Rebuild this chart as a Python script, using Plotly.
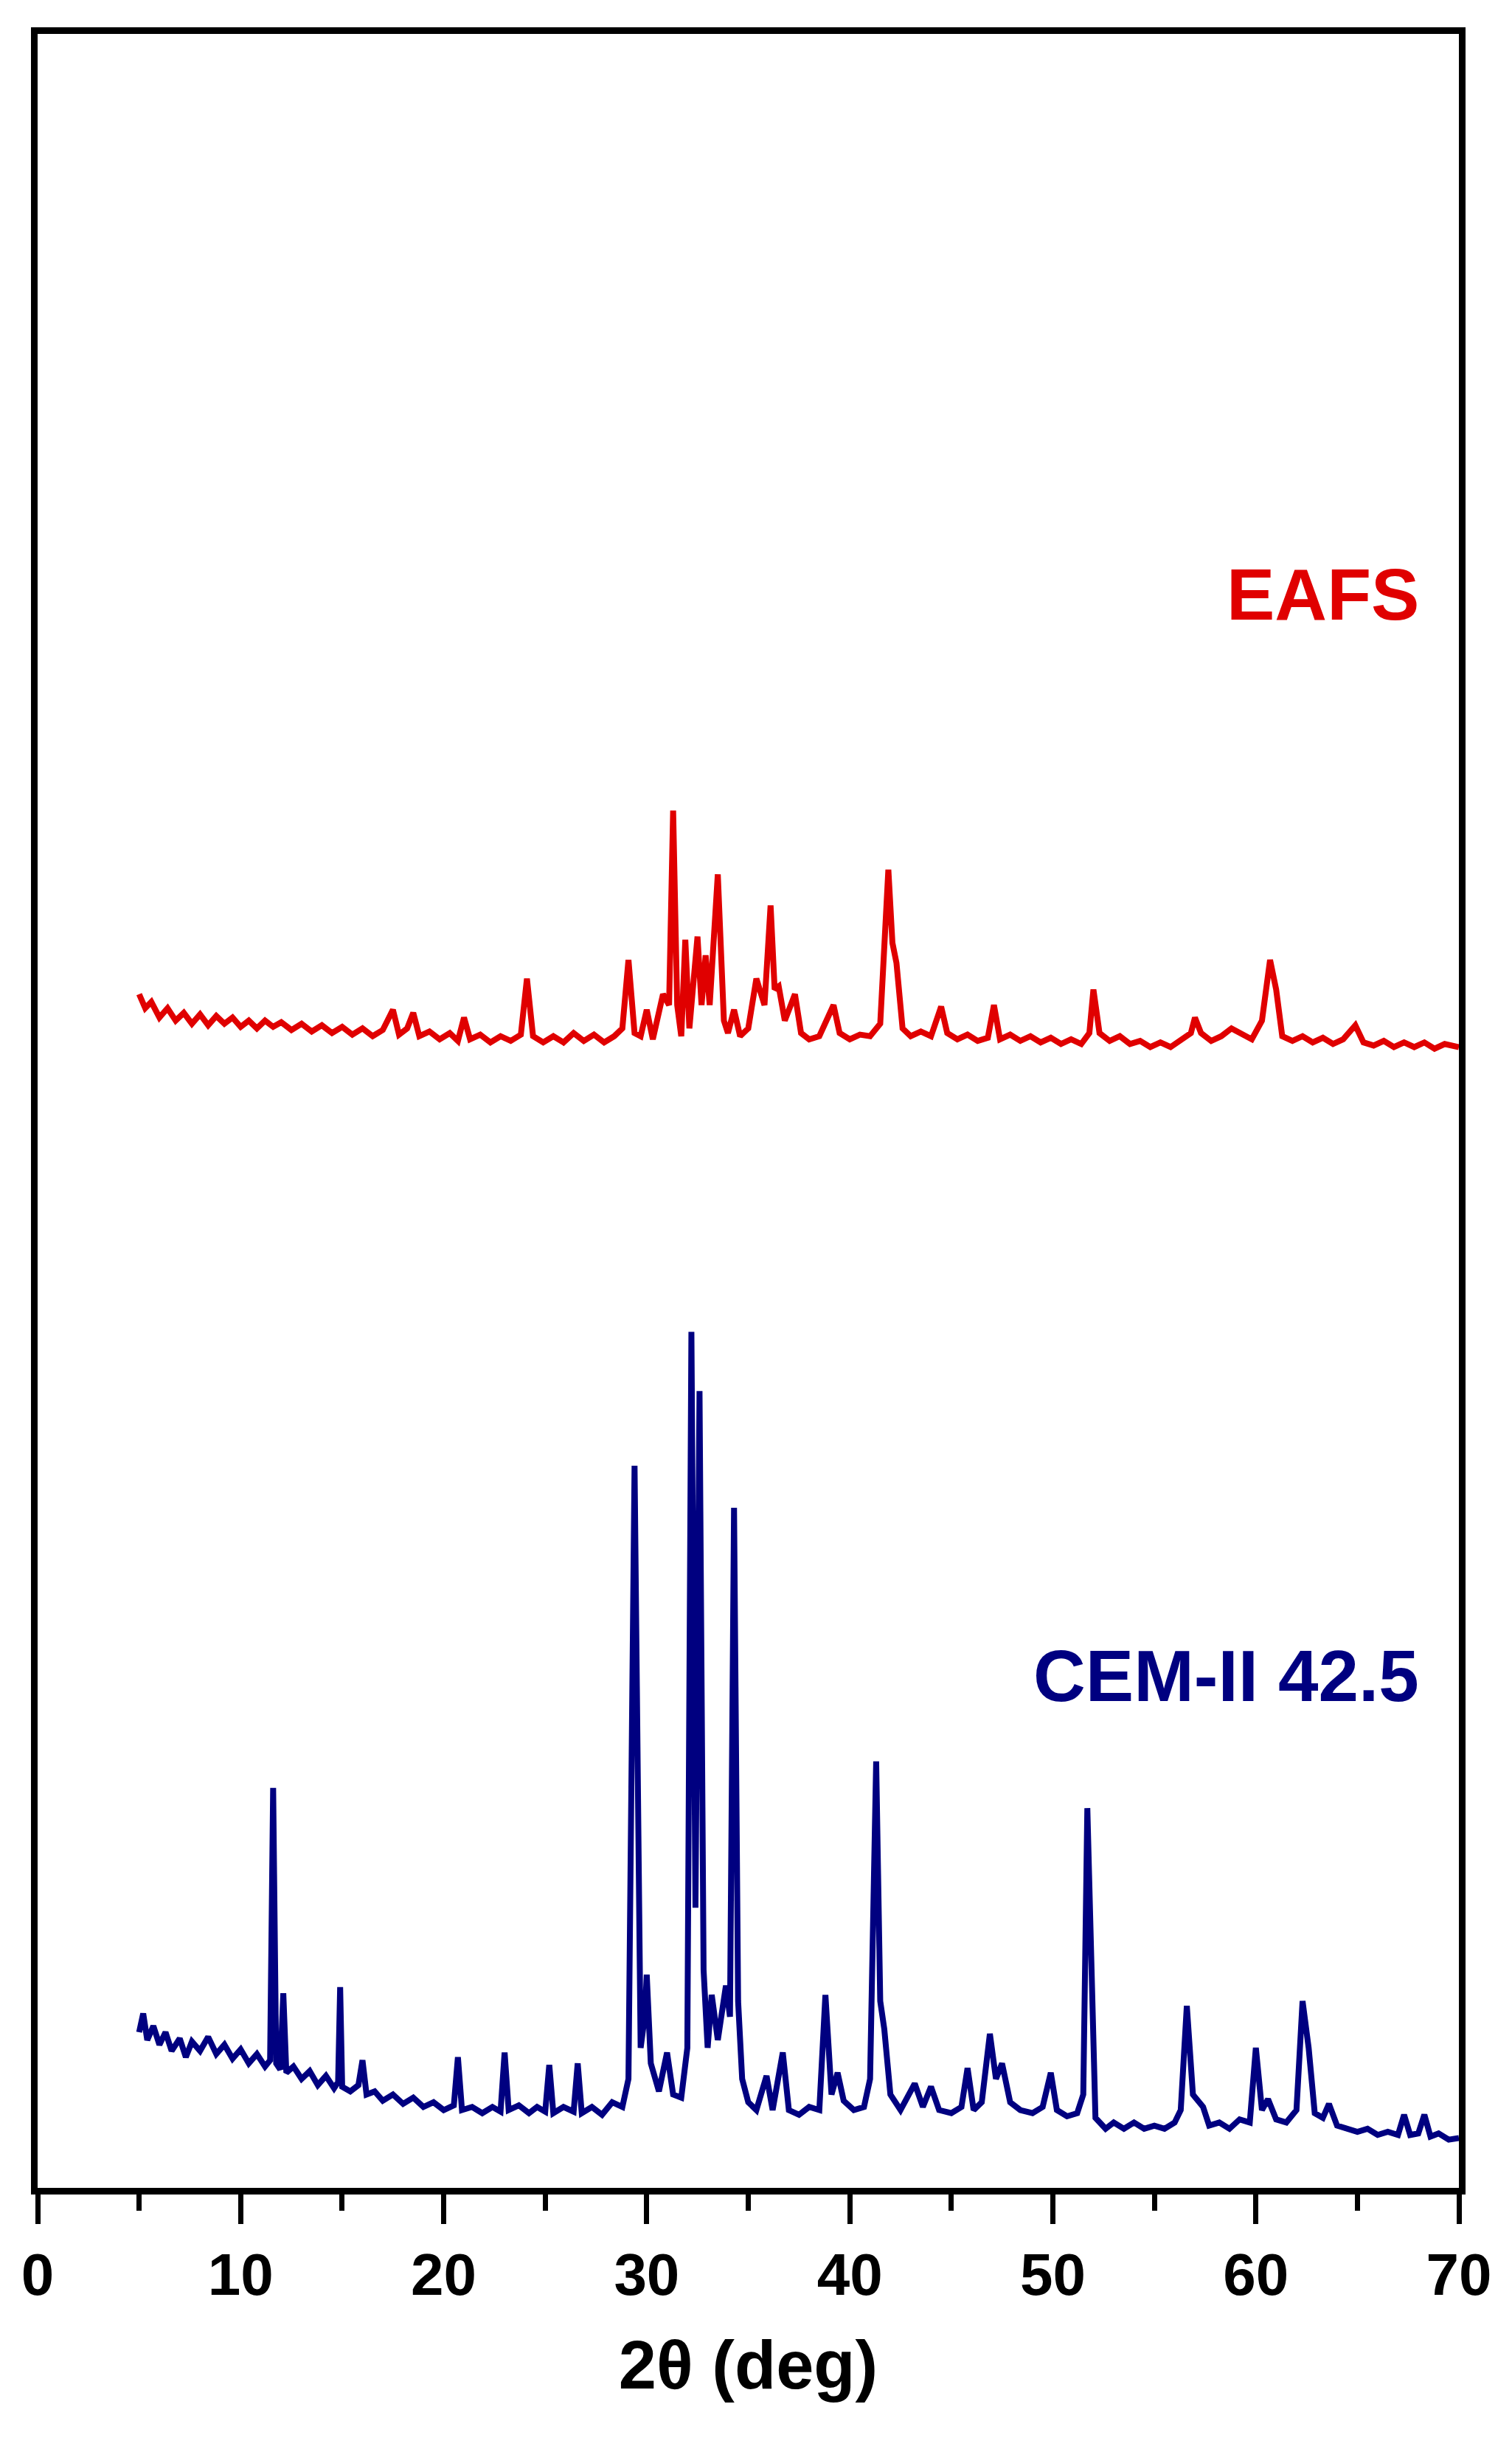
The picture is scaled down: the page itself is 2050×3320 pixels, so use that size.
import plotly.graph_objects as go

cem_x = [5.0,5.2,5.4,5.7,6.0,6.3,6.6,7.0,7.3,7.6,8.0,8.4,8.8,9.2,9.6,10.0,10.4,10.8,11.2,11.45,11.6,11.75,11.95,12.1,12.25,12.6,13.0,13.4,13.8,14.2,14.6,14.8,14.9,15.0,15.4,15.8,16.0,16.2,16.6,17.0,17.5,18.0,18.5,19.0,19.5,20.0,20.5,20.7,20.9,21.4,21.9,22.4,22.8,23.0,23.2,23.7,24.2,24.6,25.0,25.2,25.4,25.9,26.4,26.6,26.8,27.3,27.8,28.3,28.8,29.1,29.4,29.7,29.9,30.0,30.2,30.6,31.0,31.3,31.7,32.0,32.2,32.4,32.6,32.8,33.0,33.2,33.5,33.9,34.1,34.3,34.5,34.7,35.0,35.4,35.9,36.2,36.7,37.0,37.5,38.0,38.5,38.8,39.1,39.4,39.7,40.2,40.7,41.0,41.3,41.5,41.7,42.0,42.5,43.2,43.6,44.0,44.4,45.0,45.5,45.8,46.1,46.5,46.9,47.2,47.5,47.9,48.4,49.0,49.5,49.9,50.2,50.7,51.2,51.5,51.7,51.9,52.1,52.6,53.0,53.5,54.0,54.5,55.0,55.5,56.0,56.3,56.6,56.9,57.4,57.7,58.2,58.7,59.2,59.7,60.0,60.3,60.6,61.0,61.5,62.0,62.3,62.6,62.9,63.3,63.6,64.0,64.5,65.0,65.5,66.0,66.5,67.0,67.3,67.6,68.0,68.3,68.6,69.0,69.5,70.0]
cem_y = [100,112,95,104,92,100,88,96,84,94,88,97,86,92,83,89,80,86,78,82,257,80,76,125,74,78,70,75,66,72,64,68,129,65,62,66,82,60,62,56,60,54,58,52,55,50,53,84,50,52,48,52,49,87,50,53,48,52,49,79,48,52,49,80,48,52,47,55,52,70,464,90,110,137,80,62,87,60,58,90,550,180,512,140,90,124,95,130,110,437,120,70,55,50,72,50,87,50,47,52,50,124,60,74,56,50,52,70,274,120,102,60,50,67,52,65,50,48,52,77,50,55,99,70,80,55,50,48,52,74,50,46,48,60,244,150,45,38,42,38,42,38,40,38,42,50,117,60,52,40,42,38,44,42,90,50,57,44,42,50,120,90,48,45,54,40,38,36,38,34,36,34,47,34,35,47,33,35,31,32]

eafs_x = [5.0,5.3,5.6,6.0,6.4,6.8,7.2,7.6,8.0,8.4,8.8,9.2,9.6,10.0,10.4,10.8,11.2,11.6,12.0,12.5,13.0,13.5,14.0,14.5,15.0,15.5,16.0,16.5,17.0,17.5,17.8,18.2,18.5,18.8,19.3,19.8,20.3,20.7,21.0,21.3,21.8,22.3,22.8,23.3,23.8,24.1,24.4,24.9,25.4,25.9,26.4,26.9,27.4,27.9,28.4,28.8,29.1,29.4,29.7,30.0,30.3,30.8,31.1,31.3,31.5,31.7,31.9,32.1,32.5,32.7,32.9,33.1,33.5,33.8,34.0,34.3,34.6,35.0,35.4,35.8,36.1,36.3,36.5,36.8,37.3,37.6,38.0,38.5,39.2,39.5,40.0,40.5,41.0,41.5,41.9,42.1,42.3,42.6,43.0,43.5,44.0,44.5,44.8,45.3,45.8,46.3,46.8,47.1,47.4,47.9,48.4,48.9,49.4,49.9,50.4,50.9,51.4,51.8,52.0,52.3,52.8,53.3,53.8,54.3,54.8,55.3,55.8,56.3,56.8,57.0,57.3,57.8,58.3,58.8,59.3,59.8,60.3,60.7,61.0,61.3,61.8,62.3,62.8,63.3,63.8,64.3,64.9,65.3,65.8,66.3,66.8,67.3,67.8,68.3,68.8,69.3,70.0]
eafs_y = [767,758,762,752,758,750,755,748,754,747,753,748,752,746,750,745,750,746,749,744,748,743,747,742,746,741,745,740,744,757,741,745,755,740,743,738,742,737,752,738,741,736,740,737,741,777,740,736,740,736,742,737,741,736,740,745,789,742,740,757,738,767,760,885,760,740,802,745,804,760,792,760,844,750,742,757,740,745,777,760,824,770,772,750,767,742,738,740,760,742,738,741,740,748,847,800,787,745,740,743,740,759,742,738,741,737,739,760,738,741,737,740,736,739,735,738,735,742,770,742,737,740,735,737,733,736,733,738,742,752,742,737,740,745,741,738,750,789,770,740,737,740,736,739,735,738,747,736,734,737,733,736,733,736,732,735,733]

x_ticks = [0,10,20,30,40,50,60,70]
labels = ["EAFS", "CEM-II 42.5"]
label_y = [1024, 329]

font = "Arial, Liberation Sans, sans-serif"
fig = go.Figure()
fig.add_trace(go.Scatter(x=cem_x, y=cem_y, mode="lines", line=dict(color="#000080", width=8)))
fig.add_trace(go.Scatter(x=eafs_x, y=eafs_y, mode="lines", line=dict(color="#e00000", width=8)))
fig.add_annotation(x=68.1, y=label_y[0], text="<b>"+labels[0]+"</b>", showarrow=False, xanchor="right",
                   font=dict(family=font, size=98, color="#e00000"))
fig.add_annotation(x=68.1, y=label_y[1], text="<b>"+labels[1]+"</b>", showarrow=False, xanchor="right",
                   font=dict(family=font, size=98, color="#000080"))
fig.update_layout(
    width=2050, height=3320, showlegend=False,
    paper_bgcolor="white", plot_bgcolor="white",
    margin=dict(l=43, r=80, t=38, b=362),
    font=dict(family=font, color="black"),
)
fig.update_xaxes(range=[0,70], tickvals=x_ticks, ticktext=[f"<b>{v}</b>" for v in x_ticks],
                 showline=True, linecolor="black", linewidth=9, mirror=True,
                 ticks="outside", ticklen=40, tickwidth=7, tickcolor="black",
                 minor=dict(dtick=5, ticks="outside", ticklen=22, tickwidth=7, tickcolor="black"),
                 tickfont=dict(size=80, family=font), showgrid=False, zeroline=False,
                 title=dict(text="<b>2θ (deg)</b>", font=dict(size=92, family=font), standoff=50))
fig.update_yaxes(range=[0,1384], showline=True, linecolor="black", linewidth=9, mirror=True,
                 showticklabels=False, ticks="", showgrid=False, zeroline=False)
fig.write_html("out.html")
